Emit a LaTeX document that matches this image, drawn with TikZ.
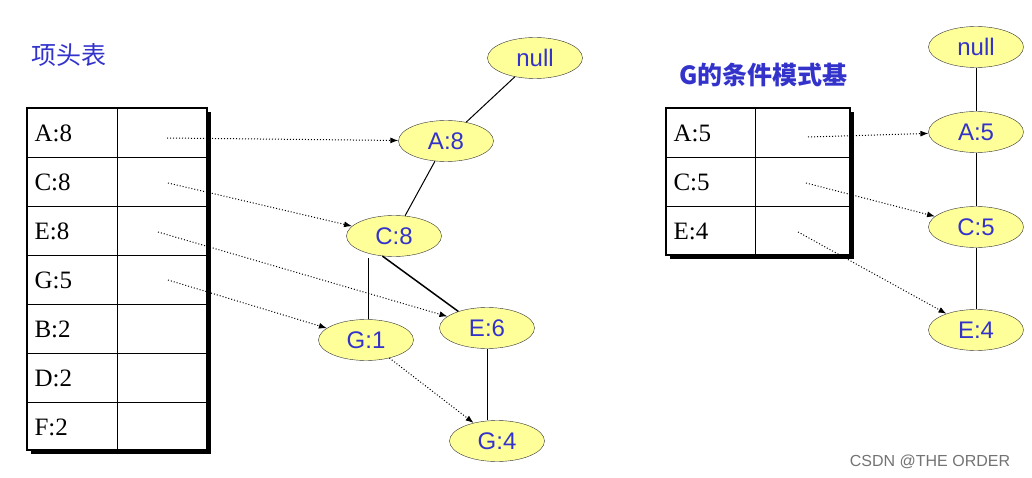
\documentclass[tikz,border=0pt]{standalone}
\usepackage{fontspec}
\setmainfont{Liberation Serif}
\newfontfamily\sans{Liberation Sans}
\newfontfamily\cjk{Noto Sans CJK SC}
\usetikzlibrary{shapes.geometric,arrows.meta}
\definecolor{nfill}{HTML}{FFFF99}
\definecolor{ntext}{HTML}{3333CC}
\begin{document}
\begin{tikzpicture}[x=1pt,y=-1pt,
 el/.style={ellipse,draw=black!80,fill=nfill,minimum width=95pt,minimum height=41pt,inner sep=0pt,font=\sans\fontsize{24}{24}\selectfont,text=ntext},
 dar/.style={dotted,line width=1pt,-{Latex[length=8pt,width=6pt]}},
 lab/.style={anchor=west,font=\fontsize{25}{25}\selectfont}]
\useasboundingbox (0,0) rectangle (1032,478);
% left table
\fill[black] (31,112) rectangle (211,454);
\fill[white] (27,108) rectangle (207,450);
\draw[line width=1.5pt] (27,108) rectangle (207,450);
\draw (117,108) -- (117,450);
\foreach \i/\t in {0/A:8,1/C:8,2/E:8,3/G:5,4/B:2,5/D:2,6/F:2}{
 \node[lab] (L\i) at (31,{133+49*\i}) {\t};
 \ifnum\i>0 \draw (27,{108+49*\i}) -- (207,{108+49*\i});\fi
}
\node[anchor=west,font=\cjk\fontsize{25}{25}\selectfont,text=ntext] (t1) at (28,55) {项头表};
% left tree
\node[el] (null1) at (535,58) {null};
\node[el] (A8) at (446,141) {A:8};
\node[el] (C8) at (394,236) {C:8};
\node[el] (G1) at (366,340) {G:1};
\node[el] (E6) at (487,328) {E:6};
\node[el] (G4) at (497,441) {G:4};
\draw[line width=1pt] (null1) -- (A8);
\draw[line width=1pt] (A8) -- (C8);
\draw[line width=1.5pt] (C8.-120) -- (E6.150);
\draw[line width=1pt] (368,258) -- (G1.north -| 368,0);
\draw[line width=1pt] (E6.south -| 487,0) -- (G4.north -| 487,0);
\draw[dar] (G1) -- (G4);
\coordinate (s1) at (167,138); \coordinate (s2) at (168,183);
\coordinate (s3) at (158,232); \coordinate (s4) at (168,280);
\draw[dar] (s1) -- (A8);
\draw[dar] (s2) -- (C8);
\draw[dar] (s3) -- (E6);
\draw[dar] (s4) -- (G1);
% right table
\fill[black] (670,112) rectangle (854,259);
\fill[white] (666,108) rectangle (850,255);
\draw[line width=1.5pt] (666,108) rectangle (850,255);
\draw (755,108) -- (755,255);
\foreach \i/\t in {0/A:5,1/C:5,2/E:4}{
 \node[lab] (R\i) at (670,{133+49*\i}) {\t};
 \ifnum\i>0 \draw (666,{108+49*\i}) -- (850,{108+49*\i});\fi
}
\node[anchor=west,font=\cjk\bfseries\fontsize{25}{25}\selectfont,text=ntext] (t2) at (676,75) {G的条件模式基};
\node[el] (null2) at (976,47) {null};
\node[el] (A5) at (976,132) {A:5};
\node[el] (C5) at (976,227) {C:5};
\node[el] (E4) at (976,330) {E:4};
\draw[line width=1pt] (null2) -- (A5);
\draw[line width=1pt] (A5) -- (C5);
\draw[line width=1pt] (C5) -- (E4);
\coordinate (r1) at (808,137); \coordinate (r2) at (806,183); \coordinate (r3) at (798,232);
\draw[dar] (r1) -- (A5);
\draw[dar] (r2) -- (C5);
\draw[dar] (r3) -- (E4);
\node[font=\sans\fontsize{16}{16}\selectfont,text=black!55] (wm) at (930,462) {CSDN @THE ORDER};
\end{tikzpicture}
\end{document}
